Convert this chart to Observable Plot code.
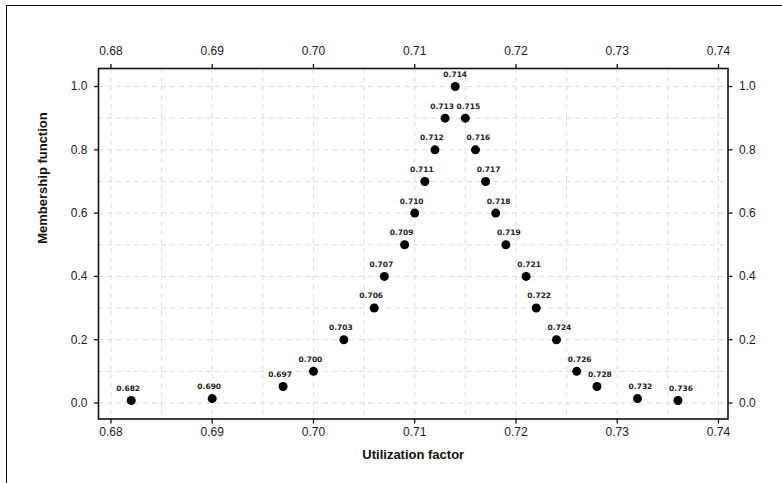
<!DOCTYPE html>
<html>
<head>
<meta charset="utf-8">
<script src="https://cdn.jsdelivr.net/npm/d3@7"></script>
<script src="https://cdn.jsdelivr.net/npm/@observablehq/plot@0.6"></script>
<style>
  html, body { margin: 0; padding: 0; background: #fff; overflow: hidden; }
  #wrap { position: relative; width: 782px; height: 483px; }
  #border { position: absolute; left: 6px; top: 5px; width: 800px; height: 500px;
            border-left: 1.5px solid #111; border-top: 1.5px solid #111; pointer-events: none; }
  #chart { position: absolute; left: 0; top: 0; }
</style>
</head>
<body>
<div id="wrap"><div id="chart"></div><div id="border"></div></div>
<script>
const utilization = [0.682, 0.690, 0.697, 0.700, 0.703, 0.706, 0.707, 0.709, 0.710, 0.711, 0.712, 0.713, 0.714,
                     0.715, 0.716, 0.717, 0.718, 0.719, 0.721, 0.722, 0.724, 0.726, 0.728, 0.732, 0.736];
const membership  = [0.008, 0.014, 0.052, 0.10, 0.20, 0.30, 0.40, 0.50, 0.60, 0.70, 0.80, 0.90, 1.00,
                     0.90, 0.80, 0.70, 0.60, 0.50, 0.40, 0.30, 0.20, 0.10, 0.052, 0.014, 0.008];
const xTicks = [0.68, 0.69, 0.70, 0.71, 0.72, 0.73, 0.74];
const yTicks = [0.0, 0.2, 0.4, 0.6, 0.8, 1.0];
const xTitle = "Utilization factor";
const yTitle = "Membership function";

const data = utilization.map((u, i) => ({u, m: membership[i]}));
const peak = utilization[membership.indexOf(d3.max(membership))];
const leftSide = data.filter(d => d.u < peak);
const peakSide = data.filter(d => d.u === peak);
const rightSide = data.filter(d => d.u > peak);
const xGrid = d3.range(0, 13).map(i => 0.68 + i * 0.005);
const yGrid = d3.range(0, 11).map(i => i * 0.1);

const font = "Liberation Sans, Arial, sans-serif";
const tickCol = "#1a1a2a";
const fmt3 = d3.format(".3f");
const labelStyle = {x: "u", y: "m", text: d => fmt3(d.u), dy: -12, fontSize: 7.5, fontWeight: "bold",
                    fill: "#222", fontFamily: "DejaVu Sans, sans-serif"};

const chart = Plot.plot({
  width: 782,
  height: 483,
  marginLeft: 98,
  marginRight: 54.5,
  marginTop: 68,
  marginBottom: 64.5,
  style: {fontFamily: font, fontSize: "12px", background: "transparent", color: tickCol},
  x: {domain: [0.67877, 0.74094]},
  y: {domain: [-0.0506, 1.057]},
  marks: [
    Plot.gridX(xGrid, {stroke: "#dcdcdc", strokeOpacity: 1, strokeDasharray: "5,4", strokeWidth: 1}),
    Plot.gridY(yGrid, {stroke: "#dcdcdc", strokeOpacity: 1, strokeDasharray: "5,4", strokeWidth: 1}),
    Plot.axisX({anchor: "bottom", ticks: xTicks, tickFormat: d3.format(".2f"), tickSize: 5, tickPadding: 3, label: null, stroke: "#111", strokeWidth: 1.3}),
    Plot.axisX({anchor: "top", ticks: xTicks, tickFormat: d3.format(".2f"), tickSize: 5, tickPadding: 9, label: null, stroke: "#111", strokeWidth: 1.3}),
    Plot.axisY({anchor: "left", ticks: yTicks, tickFormat: d3.format(".1f"), tickSize: 4, tickPadding: 7, label: null, stroke: "#111", strokeWidth: 1.3}),
    Plot.axisY({anchor: "right", ticks: yTicks, tickFormat: d3.format(".1f"), tickSize: 4, tickPadding: 7, label: null, stroke: "#111", strokeWidth: 1.3}),
    Plot.frame({stroke: "#111", strokeWidth: 1.6}),
    Plot.dot(data, {x: "u", y: "m", r: 4.5, fill: "#000", stroke: "none"}),
    Plot.text(leftSide, {...labelStyle, dx: -3}),
    Plot.text(peakSide, {...labelStyle}),
    Plot.text(rightSide, {...labelStyle, dx: 3}),
    Plot.text([xTitle], {frameAnchor: "bottom", dy: 40, fontSize: 13, fontWeight: "bold", fill: "#111"}),
    Plot.text([yTitle], {frameAnchor: "left", dx: -56, rotate: -90, fontSize: 13, fontWeight: "bold", fill: "#111"})
  ]
});
document.getElementById("chart").appendChild(chart);
</script>
</body>
</html>
